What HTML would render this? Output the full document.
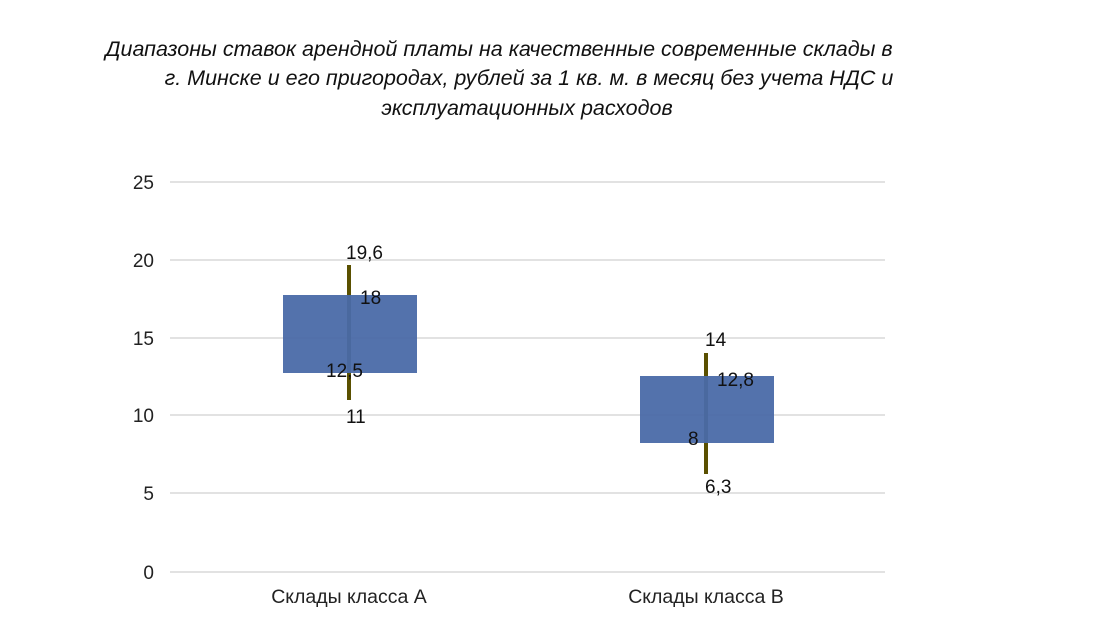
<!DOCTYPE html>
<html><head><meta charset="utf-8"><style>
body{margin:0;width:1100px;height:636px;background:#fff;overflow:hidden}
.t{position:absolute;left:0;width:1000px;text-align:center;font:italic 21.5px "Liberation Sans",sans-serif;color:#111;white-space:nowrap}
</style></head><body>
<div class="t" style="top:37px;left:-1px">Диапазоны ставок арендной платы на качественные современные склады в</div>
<div class="t" style="top:66px;left:29px">г. Минске и его пригородах, рублей за 1 кв. м. в месяц без учета НДС и</div>
<div class="t" style="top:96px;left:27px">эксплуатационных расходов</div>
<svg width="1100" height="636" style="position:absolute;left:0;top:0" font-family="Liberation Sans, sans-serif">
<g stroke="#d9d9d9" stroke-width="1.5">
<line x1="170" x2="885" y1="182" y2="182"/><line x1="170" x2="885" y1="260" y2="260"/>
<line x1="170" x2="885" y1="338" y2="338"/><line x1="170" x2="885" y1="415" y2="415"/>
<line x1="170" x2="885" y1="493" y2="493"/><line x1="170" x2="885" y1="572" y2="572"/>
</g>
<g font-size="19" fill="#222" text-anchor="end">
<text x="154" y="189">25</text><text x="154" y="267">20</text><text x="154" y="345">15</text>
<text x="154" y="422">10</text><text x="154" y="500">5</text><text x="154" y="579">0</text>
</g>
<line x1="349" x2="349" y1="265" y2="400" stroke="#5a5000" stroke-width="4"/>
<rect x="283" y="295" width="134" height="78" fill="#4a6aa8" opacity="0.95"/>
<line x1="706" x2="706" y1="353" y2="474" stroke="#5a5000" stroke-width="4"/>
<rect x="640" y="376" width="134" height="67" fill="#4a6aa8" opacity="0.95"/>
<g font-size="19" fill="#111">
<text x="346" y="259">19,6</text><text x="360" y="304">18</text>
<text x="326" y="377">12,5</text><text x="346" y="423">11</text>
<text x="705" y="346">14</text><text x="717" y="386">12,8</text>
<text x="688" y="445">8</text><text x="705" y="493">6,3</text>
</g>
<g font-size="19.5" fill="#222" text-anchor="middle">
<text x="349" y="603">Склады класса А</text><text x="706" y="603">Склады класса В</text>
</g>
</svg>
</body></html>
